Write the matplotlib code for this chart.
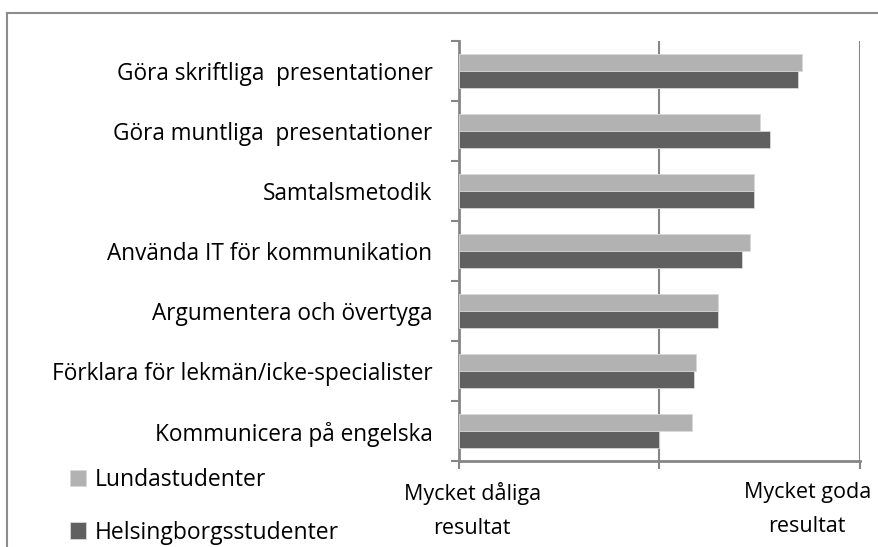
import matplotlib.pyplot as plt
import numpy as np
from matplotlib.lines import Line2D

plt.rcParams['font.family'] = ['Open Sans', 'DejaVu Sans']

# Data (0 = mycket dåliga, 2 = mycket goda)
kategorier = [
    'Göra skriftliga  presentationer',
    'Göra muntliga  presentationer',
    'Samtalsmetodik',
    'Använda IT för kommunikation',
    'Argumentera och övertyga',
    'Förklara för lekmän/icke-specialister',
    'Kommunicera på engelska',
]
lund = [1.71, 1.50, 1.47, 1.45, 1.29, 1.18, 1.16]
helsingborg = [1.69, 1.55, 1.47, 1.41, 1.29, 1.17, 1.00]
x_ticks = [0, 1, 2]
x_etiketter = ['Mycket dåliga\nresultat', '', 'Mycket goda\nresultat']

ljus = '#b2b2b2'
mork = '#606060'
axelfarg = '#868686'

fig = plt.figure(figsize=(8.79, 5.47), dpi=100)
W, H = 879, 547
ax = fig.add_axes([459 / W, 1 - 461 / H, (860 - 459) / W, (461 - 41) / H])

y = np.arange(len(kategorier))
h = 0.285
b1 = ax.barh(y - h / 2, lund, height=h, color=ljus, edgecolor='#d9d9d9', linewidth=0.6,
             label='Lundastudenter', zorder=3)
b2 = ax.barh(y + h / 2, helsingborg, height=h, color=mork, edgecolor='#d9d9d9', linewidth=0.6,
             label='Helsingborgsstudenter', zorder=3)

ax.set_xlim(0, 2)
ax.set_ylim(len(kategorier) - 0.5, -0.5)

# gridlines + ticks
ax.set_xticks(x_ticks)
ax.set_xticklabels([])
ax.xaxis.grid(True, color=axelfarg, linewidth=1.5, zorder=1)
ax.tick_params(axis='x', length=6, width=1.5, color=axelfarg)

# x labels, shifted like in the Excel original
ax.annotate(x_etiketter[0], xy=(x_ticks[0], 0), xycoords=('data', 'axes fraction'),
            xytext=(9.5, -15), textcoords='offset points', ha='center', va='top',
            fontsize=15.5, linespacing=1.85)
ax.annotate(x_etiketter[2], xy=(x_ticks[2], 0), xycoords=('data', 'axes fraction'),
            xytext=(-38, -15), textcoords='offset points', ha='center', va='top',
            fontsize=15.5, linespacing=1.85)

# category ticks at boundaries, labels at centres
ax.set_yticks(np.arange(-0.5, len(kategorier)))
ax.set_yticklabels([])
ax.set_yticks(y, minor=True)
ax.set_yticklabels(kategorier, minor=True, fontsize=16.3)
ax.tick_params(axis='y', which='major', length=6, width=1.5, color=axelfarg)
ax.tick_params(axis='y', which='minor', length=0, pad=19)

for s in ['top', 'right']:
    ax.spines[s].set_visible(False)
for s in ['left', 'bottom']:
    ax.spines[s].set_color(axelfarg)
    ax.spines[s].set_linewidth(2)

fig.legend(handles=[b1, b2], loc='upper left', bbox_to_anchor=(63 / W, 1 - 461 / H),
           frameon=False, fontsize=16.5, handlelength=0.7, handleheight=0.7,
           handletextpad=0.4, labelspacing=1.25, borderaxespad=0, borderpad=0.3)

# outer frame (cut off at right and bottom)
fig.add_artist(Line2D([7 / W, 7 / W], [0, 1 - 13 / H], transform=fig.transFigure,
                      color='#8c8c8c', linewidth=1.5))
fig.add_artist(Line2D([7 / W, 1], [1 - 13 / H, 1 - 13 / H], transform=fig.transFigure,
                      color='#8c8c8c', linewidth=1.5))

fig.savefig('out.png', dpi=100)
